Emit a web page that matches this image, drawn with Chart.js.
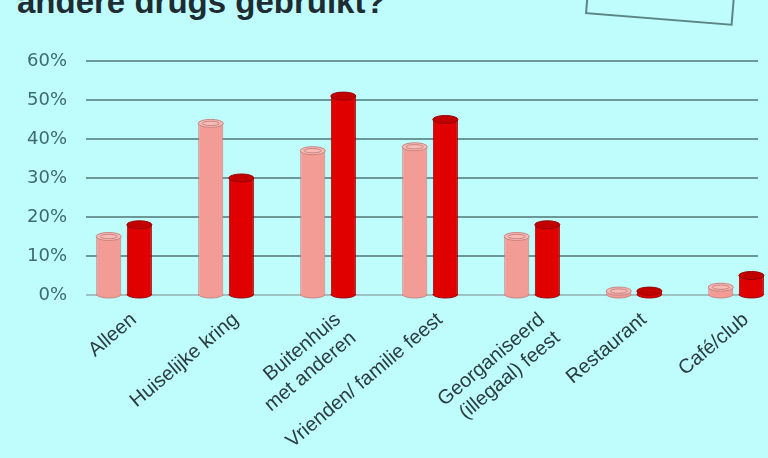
<!DOCTYPE html>
<html>
<head>
<meta charset="utf-8">
<script src="https://cdn.jsdelivr.net/npm/chart.js@4/dist/chart.umd.min.js"></script>
<style>
  html, body { margin: 0; padding: 0; background: #bffcfc; overflow: hidden; }
  #wrap { position: relative; width: 768px; height: 458px; }
  #title { position: absolute; left: 17px; top: -15px; font-family: "Liberation Sans", Arial, sans-serif; font-weight: bold; font-size: 33px; line-height: 33px; color: #1e2c33; white-space: nowrap; }
  #box { position: absolute; left: 585px; top: -66px; width: 148px; height: 80px; border: 2px solid #5d8585; box-sizing: border-box; transform-origin: 0 100%; transform: rotate(4.6deg); }
  canvas { position: absolute; left: 0; top: 0; }
</style>
</head>
<body>
<div id="wrap">
  <div id="title">andere drugs gebruikt?</div>
  <div id="box"></div>
  <canvas id="c" width="768" height="458"></canvas>
</div>
<script>
const categories = ['Alleen', 'Huiselijke kring', ['Buitenhuis', 'met anderen'], 'Vrienden/ familie feest', ['Georganiseerd', '(illegaal) feest'], 'Restaurant', 'Café/club'];
const seriesLight = [15, 44, 37, 38, 15, 1, 2];
const seriesDark = [18, 30, 51, 45, 18, 1, 5];
const yTickValues = [0, 10, 20, 30, 40, 50, 60];

const cylinder = {
  id: 'cylinder',
  afterDatasetsDraw(chart) {
    const ctx = chart.ctx;
    chart.data.datasets.forEach((ds, di) => {
      const meta = chart.getDatasetMeta(di);
      meta.data.forEach(bar => {
        const p = bar.getProps(['x', 'y', 'base', 'width'], true);
        const rx = p.width / 2, ry = 4;
        ctx.save();
        ctx.lineWidth = 1;
        ctx.strokeStyle = ds.borderColor;
        ctx.beginPath();
        ctx.ellipse(p.x, p.base, rx, ry, 0, 0, Math.PI);
        ctx.fillStyle = ds.backgroundColor;
        ctx.fill();
        ctx.stroke();
        ctx.beginPath();
        ctx.ellipse(p.x, p.y, rx, ry, 0, 0, 2 * Math.PI);
        ctx.fillStyle = ds.topColor;
        ctx.fill();
        ctx.stroke();
        ctx.beginPath();
        ctx.ellipse(p.x, p.y, rx * 0.68, ry * 0.55, 0, 0, 2 * Math.PI);
        ctx.strokeStyle = ds.innerColor;
        ctx.stroke();
        ctx.restore();
      });
    });
  }
};

new Chart(document.getElementById('c'), {
  type: 'bar',
  data: {
    datasets: [
      {
        data: seriesLight.map((v, i) => ({ x: i, y: v })),
        backgroundColor: '#f39c96',
        borderColor: '#c98480',
        topColor: '#f7bbb6',
        innerColor: '#c98480',
        borderWidth: { left: 1, right: 1, top: 0, bottom: 0 },
        barPercentage: 0.82,
        categoryPercentage: 0.6,
        clip: false
      },
      {
        data: seriesDark.map((v, i) => ({ x: i, y: v })),
        backgroundColor: '#e00000',
        borderColor: '#990000',
        topColor: '#c20000',
        innerColor: '#c20000',
        borderWidth: { left: 1, right: 1, top: 0, bottom: 0 },
        barPercentage: 0.82,
        categoryPercentage: 0.6,
        clip: false
      }
    ]
  },
  options: {
    responsive: false,
    animation: false,
    layout: { padding: { top: 61, right: 10, left: 0, bottom: 0 } },
    plugins: { legend: { display: false }, tooltip: { enabled: false } },
    scales: {
      x: {
        type: 'linear',
        offset: false,
        min: -0.373,
        max: 6.215,
        afterBuildTicks: (scale) => { scale.ticks = categories.map((c, i) => ({ value: i })); },
        afterFit: (scale) => { scale.height = 163; scale.paddingLeft = 0; scale.paddingRight = 0; },
        grid: { display: false, drawTicks: false, offset: false },
        border: { display: false },
        ticks: {
          autoSkip: false,
          maxRotation: 40,
          minRotation: 40,
          padding: 13,
          labelOffset: 10,
          color: '#2b3d40',
          font: { family: 'Liberation Sans, Arial, sans-serif', size: 20 },
          callback: (v) => categories[v]
        }
      },
      y: {
        min: 0,
        max: 60,
        afterBuildTicks: (scale) => { scale.ticks = yTickValues.map(v => ({ value: v })); },
        afterFit: (scale) => { scale.width = 86; },
        grid: {
          drawTicks: false,
          lineWidth: 2,
          color: (c) => c.tick && c.tick.value === 0 ? '#9fc2c2' : '#6d9898'
        },
        border: { display: false },
        ticks: {
          padding: 19,
          color: '#3e6b6b',
          font: { family: 'DejaVu Sans, sans-serif', size: 18 },
          callback: (v) => v + '%'
        }
      }
    }
  },
  plugins: [cylinder]
});
</script>
</body>
</html>
